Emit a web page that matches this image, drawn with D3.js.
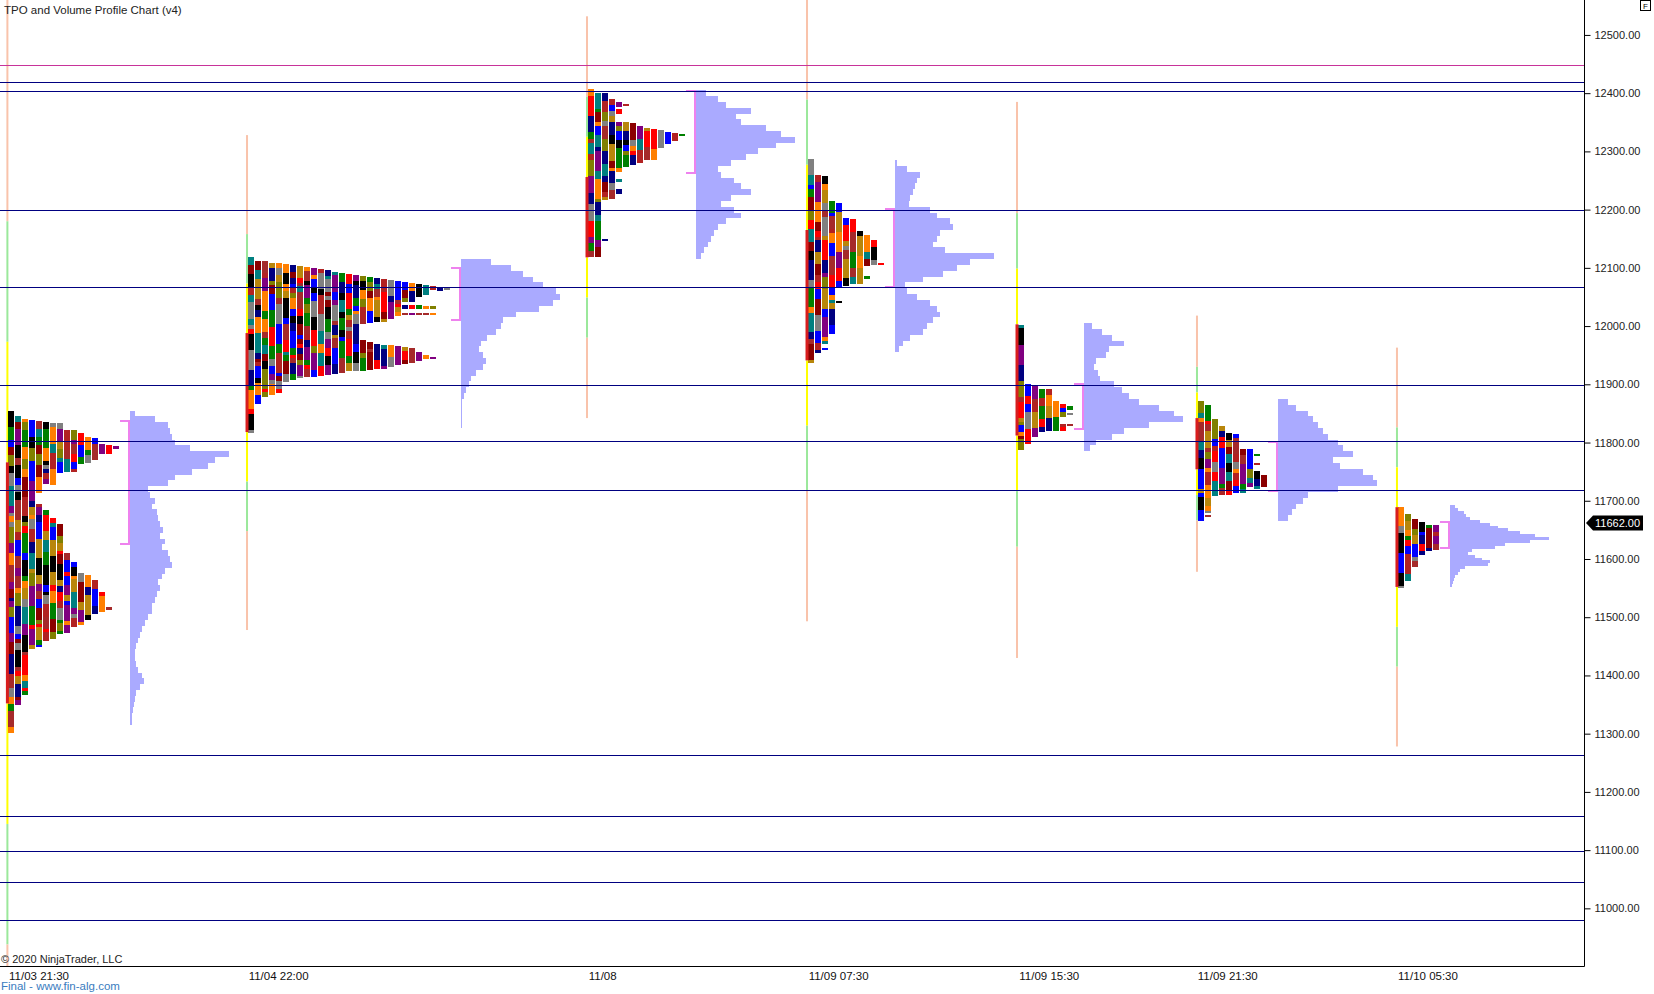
<!DOCTYPE html>
<html><head><meta charset="utf-8">
<script src="https://cdn.jsdelivr.net/npm/d3@7"></script>
<style>
html,body{margin:0;padding:0;background:#fff;}
svg{display:block;}
text{font-family:"Liberation Sans",Arial,sans-serif;}
</style></head><body>
<svg id="chart" width="1654" height="994"></svg>
<script>
// ---------------- DATA ----------------
const priceTicks = [11000,11100,11200,11300,11400,11500,11600,11700,11800,11900,12000,12100,12200,12300,12400,12500];
const timeLabels = ["11/03 21:30","11/04 22:00","11/08","11/09 07:30","11/09 15:30","11/09 21:30","11/10 05:30"];
const timeLabelSlots = [5.57, 39.8, 86.1, 119.8, 149.9, 175.4, 204.0];
const levelLines = [12420, 12404, 12200, 12067, 11899, 11802, 11719, 11264, 11159, 11098, 11045, 10980];
const magentaLevel = 12448;
const lastPrice = 11662;

const sessionStart = [1.057, 35.29, 83.86, 115.29, 145.29, 171.0, 199.57];
const ibHigh = [11766, 11988, 12256, 12165, 12003, 11842, 11689];
const ibLow  = [11352, 11818, 12118, 11941, 11812, 11754, 11552];
const vaHigh = [11837, 12100, 12403, 12201, 11900, 11801, 11664];
const vaLow  = [11626, 12010, 12263, 12067, 11823, 11717, 11619];

// TPO columns: each column = list of [high, low] price segments
const tpo1 = [
  [[11855,11301]],[[11845,11349]],[[11841,11366]],[[11838,11446]],
  [[11837,11713],[11695,11449]],[[11836,11728],[11684,11459]],
  [[11834,11727],[11671,11463]],[[11833,11747],[11660,11472]],
  [[11822,11750],[11611,11473]],[[11821,11750],[11595,11484]],
  [[11817,11763],[11576,11486]],[[11810,11764],[11572,11495]],
  [[11808,11770],[11564,11506]],[[11797,11781],[11544,11509]],
  [[11796,11781],[11518,11512]],[[11794,11789]]
];
const tpo2 = [
  [[12119,11816]],[[12112,11867]],[[12112,11879]],[[12109,11881]],
  [[12108,11885]],[[12106,11904]],[[12105,11907]],[[12104,11910]],
  [[12102,11912]],[[12099,11913]],[[12098,11914]],[[12096,11916]],
  [[12093,11918]],[[12092,11920]],[[12089,11922]],[[12088,11923]],
  [[12086,12004],[11976,11923]],[[12084,12006],[11973,11924]],
  [[12082,12007],[11970,11926]],[[12081,12007],[11968,11927]],
  [[12079,12013],[11967,11930]],[[12078,12017],[11966,11933]],
  [[12076,12042],[12036,12030],[12023,12019],[11964,11935]],
  [[12074,12042],[12036,12030],[12023,12019],[11963,11937]],
  [[12072,12050],[12036,12030],[12023,12019],[11956,11940]],
  [[12070,12053],[12035,12030],[12023,12019],[11950,11943]],
  [[12069,12062],[12035,12030],[12023,12021],[11947,11945]],
  [[12067,12061]],[[12066,12063]]
];
const tpo3 = [
  [[12407,12119]],[[12401,12119]],[[12401,12216],[12149,12146]],[[12390,12219]],
  [[12384,12376],[12373,12365],[12351,12265],[12252,12248],[12235,12227]],
  [[12381,12379],[12351,12274]],[[12348,12276]],[[12344,12280]],
  [[12341,12285]],[[12338,12285]],[[12337,12305]],[[12334,12313]],
  [[12332,12318]],[[12330,12328]]
];
const tpo4 = [
  [[12287,11936]],[[12259,11953]],[[12258,11969],[11962,11960]],[[12215,11986]],
  [[12212,12065],[12043,12040]],[[12186,12069]],[[12184,12072]],[[12164,12073]],
  [[12156,12103],[12086,12080]],[[12147,12105]],[[12109,12106]]
];
const tpo5 = [
  [[12002,11787]],[[11900,11798]],[[11897,11810]],[[11892,11818]],
  [[11892,11820]],[[11871,11820]],[[11867,11843],[11832,11820]],
  [[11863,11856],[11851,11847],[11831,11829]]
];
const tpo6 = [
  [[11872,11665]],[[11865,11679],[11676,11674]],[[11840,11709]],[[11828,11710]],
  [[11816,11710]],[[11814,11714]],[[11789,11714]],[[11789,11723]],
  [[11781,11778],[11765,11763],[11751,11720]],[[11744,11724]]
];
const tpo7 = [
  [[11690,11550]],[[11678,11562]],[[11668,11587]],[[11663,11607]],
  [[11659,11613]],[[11658,11615]]
];

// Volume profiles: values from top price downward in fixed price steps
const volTop  = [11850, 12110, 12400, 12280, 12000, 11870, 11690];
const volStep = [10, 10, 10, 10, 10, 10, 5];
const vol1 = [5,25,38,40,42,45,60,99,85,78,62,45,38,18,20,25,22,27,28,30,33,30,35,32,38,40,42,35,32,28,30,27,25,22,22,18,15,12,10,8,6,5,5,6,8,12,14,10,6,5,4,3,2,2];
const vol2 = [30,50,62,72,82,95,99,92,78,55,42,40,35,26,20,18,22,25,22,15,10,8,5,3,1,1,1,1,1];
const vol3 = [10,22,30,55,40,45,70,85,99,80,62,50,35,22,25,38,45,55,35,25,38,45,30,22,18,15,12,8,5];
const vol4 = [2,12,25,22,20,18,15,14,35,42,55,58,45,42,38,50,99,75,62,48,28,10,12,22,35,42,45,38,32,28,15,8,4];
const vol5 = [8,18,28,40,25,22,12,10,14,16,30,38,45,55,75,90,99,65,40,28,12,6];
const vol6 = [10,18,30,35,40,45,50,60,65,75,55,62,85,95,99,60,30,25,18,14,10];
const vol7 = [5,8,14,16,20,30,40,48,58,70,85,99,80,55,45,22,18,25,32,40,38,15,10,8,5,4,3,2];

const tpoProfiles = [tpo1,tpo2,tpo3,tpo4,tpo5,tpo6,tpo7];
const volProfiles = [vol1,vol2,vol3,vol4,vol5,vol6,vol7];

// ---------------- STYLE ----------------
const C = {
  salmon:"#f9c3ab", green:"#9be89b", yellow:"#ffff00", ib:"#d81e1e",
  vol:"#aaaaff", bracket:"#ee82ee", navy:"#000080", magenta:"#c8339a"
};
const palette = ["#8b0000","#808000","#b8860b","#ff7f00","#008080","#000080","#800080",
                 "#008000","#ff0000","#0000ff","#000000","#808080","#a52a2a","#b22222"];
const cellSizes = [8,14,20,10,28,16,6,22,12,34];
function hsh(a,b,c){
  let h = (Math.imul(a+1,374761393) + Math.imul(b+7,668265263) + Math.imul(c+3,1274126177))|0;
  h = Math.imul(h ^ (h>>>13), 1274126177);
  return (h ^ (h>>>16))>>>0;
}

// ---------------- CHART ----------------
const svg = d3.select("#chart");
const plotW = 1584, plotH = 966;
const x = d3.scaleLinear().domain([0, 226.29]).range([0, plotW]);
const y = d3.scaleLinear().domain([10901, 12560]).range([plotH, 0]);
const slotPx = x(1) - x(0);

svg.append("rect").attr("width",1654).attr("height",994).attr("fill","#fff");
svg.append("defs").append("clipPath").attr("id","clip")
  .append("rect").attr("width",plotW).attr("height",plotH);
const g = svg.append("g").attr("clip-path","url(#clip)");

// session / IB extension lines
sessionStart.forEach((s,i)=>{
  const cx = x(s), hi = ibHigh[i], lo = ibLow[i], r = hi-lo;
  const segs = [[hi+2*r,hi+r,C.salmon],[hi+r,hi+0.5*r,C.green],[hi+0.5*r,hi,C.yellow],
                [lo,lo-0.5*r,C.yellow],[lo-0.5*r,lo-r,C.green],[lo-r,lo-2*r,C.salmon]];
  segs.forEach(sg=>{
    g.append("rect").attr("x",cx-1).attr("width",2)
      .attr("y",y(sg[0])).attr("height",y(sg[1])-y(sg[0])).attr("fill",sg[2]);
  });
});

// TPO columns
tpoProfiles.forEach((prof,pi)=>{
  prof.forEach((col,ci)=>{
    const cx = x(sessionStart[pi]+ci)+1;
    let k = 0, prevColor = -1;
    col.forEach(seg=>{
      let cur = seg[0];
      while(cur > seg[1]-0.001){
        const h = hsh(pi,ci,k);
        const size = cellSizes[(h>>>5)%cellSizes.length];
        let low = Math.max(seg[1], cur-size);
        if(low - seg[1] < 4) low = seg[1];
        let cidx = h % palette.length;
        if(cidx===prevColor) cidx = (cidx+1)%palette.length;
        prevColor = cidx;
        const y0 = y(cur), y1 = y(low);
        g.append("rect").attr("x",cx).attr("width",slotPx-1)
          .attr("y",y0).attr("height",Math.max(2,y1-y0)).attr("fill",palette[cidx])
          .attr("shape-rendering","crispEdges");
        k++;
        if(low<=seg[1]) break;
        cur = low;
      }
    });
  });
});

// IB segment on session line
sessionStart.forEach((s,i)=>{
  const cx = x(s);
  g.append("rect").attr("x",cx-1.5).attr("width",3)
    .attr("y",y(ibHigh[i])).attr("height",y(ibLow[i])-y(ibHigh[i])).attr("fill",C.ib);
});

// Volume profiles + value-area brackets
volProfiles.forEach((vals,pi)=>{
  const base = Math.round(x(sessionStart[pi] + tpoProfiles[pi].length) + 11);
  const len = d3.scaleLinear().domain([0, d3.max(vals)]).range([0, 99]);
  const step = volStep[pi];
  const vg = g.append("g").attr("shape-rendering","crispEdges");
  vals.forEach((v,j)=>{
    const center = volTop[pi] - j*step;
    const yt = Math.round(y(center+step/2)), yb = Math.round(y(center-step/2));
    vg.append("rect").attr("x",base).attr("y",yt)
      .attr("width",Math.max(1,Math.round(len(v)))).attr("height",Math.max(1,yb-yt)).attr("fill",C.vol);
  });
  const yh = Math.round(y(vaHigh[pi])), yl = Math.round(y(vaLow[pi]));
  g.append("path")
    .attr("d",`M${base-10},${yh}H${base-1}V${yl}H${base-10}`)
    .attr("fill","none").attr("stroke",C.bracket).attr("stroke-width",2);
});

// horizontal level lines
levelLines.forEach(v=>{
  const yy = Math.round(y(v))+0.5;
  g.append("line").attr("x1",0).attr("x2",plotW).attr("y1",yy).attr("y2",yy)
    .attr("stroke",C.navy).attr("stroke-width",1);
});
{
  const yy = Math.round(y(magentaLevel))+0.5;
  g.append("line").attr("x1",0).attr("x2",plotW).attr("y1",yy).attr("y2",yy)
    .attr("stroke",C.magenta).attr("stroke-width",1);
}

// axes frame
svg.append("line").attr("x1",plotW+0.5).attr("x2",plotW+0.5).attr("y1",0).attr("y2",plotH+0.5)
  .attr("stroke","#000");
svg.append("line").attr("x1",0).attr("x2",plotW+0.5).attr("y1",plotH+0.5).attr("y2",plotH+0.5)
  .attr("stroke","#000");

// right price axis
const yAxis = d3.axisRight(y).tickValues(priceTicks).tickFormat(d3.format(".2f"))
  .tickSize(6).tickPadding(4);
const ya = svg.append("g").attr("transform",`translate(${plotW+0.5},0)`).call(yAxis);
ya.select(".domain").remove();
ya.selectAll("text").attr("font-size",11).attr("fill","#222")
  .attr("font-family","'Liberation Sans',Arial,sans-serif");
ya.selectAll("line").attr("stroke","#000");

// bottom time axis labels
const xa = svg.append("g");
timeLabels.forEach((t,i)=>{
  xa.append("text").attr("x",x(timeLabelSlots[i])).attr("y",980)
    .attr("text-anchor","middle").attr("font-size",11.5).attr("fill","#111").text(t);
});

// last price marker
{
  const yy = y(lastPrice);
  const x0 = plotW+2;
  svg.append("path")
    .attr("d",`M${x0},${yy}L${x0+7},${yy-7.5}H${x0+57}V${yy+7.5}H${x0+7}Z`)
    .attr("fill","#000");
  svg.append("text").attr("x",x0+9).attr("y",yy+4).attr("font-size",11)
    .attr("fill","#fff").text(d3.format(".2f")(lastPrice));
}

// "F" box top right
svg.append("rect").attr("x",1640.5).attr("y",0.5).attr("width",10).attr("height",10)
  .attr("fill","#fff").attr("stroke","#000");
svg.append("text").attr("x",1645.5).attr("y",9).attr("text-anchor","middle")
  .attr("font-size",8).attr("fill","#000").text("F");

// texts
svg.append("text").attr("x",4).attr("y",14).attr("font-size",11.5).attr("fill","#222")
  .text("TPO and Volume Profile Chart (v4)");
svg.append("text").attr("x",1).attr("y",963).attr("font-size",11).attr("fill","#222")
  .text("© 2020 NinjaTrader, LLC");
svg.append("text").attr("x",1).attr("y",990).attr("font-size",11.5).attr("fill","#3a7cc0")
  .text("Final - www.fin-alg.com");
</script>
</body></html>
